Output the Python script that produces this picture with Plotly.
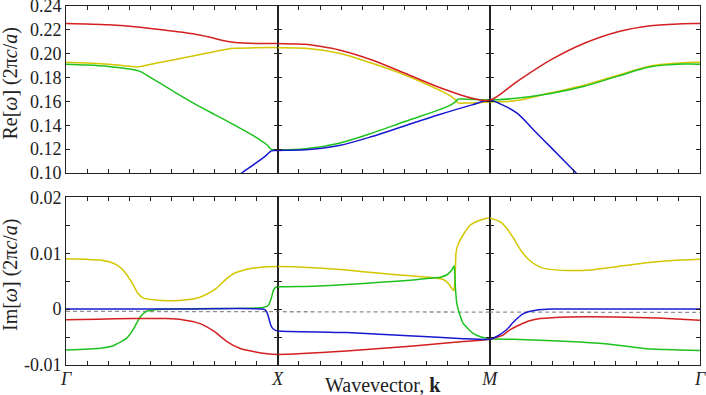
import plotly.graph_objects as go
from plotly.subplots import make_subplots

# band colours
RED, YEL, GRN, BLU = "#d42020", "#d4c600", "#1ec21e", "#1818d0"

# path coordinate: Gamma = 0, X = 1, M = 2, Gamma = 3
path_ticks = ["<i>Γ</i>", "<i>X</i>", "<i>M</i>", "<i>Γ</i>"]

# ---- Re[w] ----
re_red_k = [0, 0.2, 0.35, 0.5, 0.6, 0.68, 0.74, 0.8, 0.9, 1.0,
            1.13, 1.2, 1.29, 1.445, 1.6, 1.76, 1.917, 2.0,
            2.13, 2.29, 2.45, 2.61, 2.765, 2.92, 3.0]
re_red = [0.2253, 0.2242, 0.2222, 0.2190, 0.2167, 0.2138, 0.2111, 0.2094, 0.2086, 0.2085,
          0.2079, 0.2062, 0.2032, 0.1948, 0.1836, 0.1719, 0.1627, 0.1610,
          0.1767, 0.1948, 0.2088, 0.2185, 0.2235, 0.2252, 0.2253]

re_yel_k = [0, 0.1, 0.2, 0.3, 0.335, 0.36, 0.4, 0.5, 0.6, 0.7, 0.76, 0.8, 0.9, 1.0,
            1.13, 1.29, 1.445, 1.6, 1.76, 1.807, 1.83, 1.843, 1.85, 1.9, 1.95, 2.0,
            2.08, 2.15, 2.29, 2.45, 2.61, 2.765, 2.92, 3.0]
re_yel = [0.1928, 0.1922, 0.1911, 0.1895, 0.1889, 0.1895, 0.1912, 0.1946, 0.1981, 0.2017, 0.2038, 0.2045, 0.2050, 0.2051,
          0.2046, 0.2004, 0.1920, 0.1822, 0.1697, 0.1655, 0.1627, 0.1605, 0.1588, 0.1587, 0.1590, 0.1596,
          0.1599, 0.1615, 0.1672, 0.1735, 0.1820, 0.1898, 0.1925, 0.1928]

re_grn_k = [0, 0.1, 0.2, 0.3, 0.35, 0.4, 0.5, 0.6, 0.7, 0.8, 0.9, 0.95, 0.97, 1.0,
            1.13, 1.29, 1.445, 1.6, 1.76, 1.807, 1.83, 1.843, 1.85, 1.9, 2.0,
            2.1, 2.29, 2.45, 2.61, 2.765, 2.92, 3.0]
re_grn = [0.1912, 0.1905, 0.1893, 0.1872, 0.1852, 0.1800, 0.1693, 0.1588, 0.1492, 0.1398, 0.1297, 0.1235, 0.1198, 0.1195,
          0.1203, 0.1250, 0.1334, 0.1432, 0.1529, 0.1563, 0.1585, 0.1605, 0.1619, 0.1618, 0.1613,
          0.1622, 0.1667, 0.1728, 0.1812, 0.1890, 0.1913, 0.1912]

re_blu_k = [0.5, 0.6, 0.7, 0.83, 0.94, 0.97, 1.0,
            1.13, 1.29, 1.445, 1.6, 1.76, 1.917, 2.0,
            2.05, 2.13, 2.21, 2.29, 2.41, 2.5, 2.6]
re_blu = [0.058, 0.071, 0.084, 0.100, 0.1139, 0.1186, 0.1189,
          0.1195, 0.1231, 0.1306, 0.1396, 0.1488, 0.1571, 0.1610,
          0.1580, 0.1502, 0.1359, 0.1217, 0.1002, 0.084, 0.066]

# ---- Im[w] ----
im_red_k = [0, 0.15, 0.318, 0.476, 0.55, 0.633, 0.7, 0.76, 0.82, 0.885, 0.95, 1.0,
            1.325, 1.64, 1.876, 2.0,
            2.065, 2.096, 2.144, 2.19, 2.24, 2.38, 2.6, 2.8, 3.0]
im_red = [-0.0019, -0.0018, -0.0017, -0.0017, -0.0019, -0.0026, -0.0040, -0.0058, -0.0070, -0.0076, -0.0080, -0.0081,
          -0.0075, -0.0066, -0.0058, -0.0054,
          -0.0046, -0.0037, -0.0028, -0.0021, -0.0017, -0.0014, -0.0014, -0.0016, -0.0020]

im_yel_k = [0, 0.1, 0.16, 0.2, 0.24, 0.28, 0.318, 0.34, 0.365, 0.4, 0.476, 0.55, 0.6, 0.65, 0.71, 0.76, 0.8, 0.85, 0.9, 1.0,
            1.168, 1.325, 1.483, 1.64, 1.718, 1.781, 1.805, 1.821, 1.830, 1.834, 1.838, 1.841, 1.85, 1.875, 1.907, 1.954, 2.0,
            2.05, 2.08, 2.113, 2.15, 2.19, 2.23, 2.27, 2.38, 2.48, 2.59, 2.746, 2.87, 3.0]
im_yel = [0.0090, 0.0089, 0.0088, 0.0085, 0.0079, 0.0065, 0.0043, 0.0028, 0.0020, 0.0017, 0.0015, 0.0016, 0.0018, 0.0024, 0.0037, 0.0055, 0.0065, 0.0071, 0.0074, 0.0076,
          0.0074, 0.0070, 0.0064, 0.0059, 0.0057, 0.0053, 0.0046, 0.0037, 0.0033, 0.0040, 0.0070, 0.0100, 0.0115, 0.0133, 0.0150, 0.0159, 0.0163,
          0.0156, 0.0145, 0.0127, 0.0104, 0.0087, 0.0077, 0.0072, 0.0069, 0.0070, 0.0075, 0.0083, 0.0087, 0.0089]

im_grn_k = [0, 0.16, 0.22, 0.287, 0.32, 0.35, 0.38, 0.42, 0.475, 0.7, 0.93, 0.956, 0.97, 0.98, 0.99, 1.0,
            1.168, 1.325, 1.483, 1.64, 1.718, 1.766, 1.797, 1.821, 1.832, 1.835, 1.838, 1.845, 1.86, 1.874, 1.92, 1.96, 2.0,
            2.11, 2.43, 2.6, 2.746, 2.9, 3.0]
im_grn = [-0.0073, -0.0070, -0.0066, -0.0052, -0.0035, -0.0014, -0.0004, -0.0001, 0.0, 0.0001, 0.0003, 0.0007, 0.0020, 0.0034, 0.0039, 0.0040,
          0.0041, 0.0044, 0.0048, 0.0052, 0.0055, 0.0057, 0.0061, 0.0070, 0.0077, 0.0065, 0.0040, 0.0010, -0.0011, -0.0025, -0.0043, -0.0050, -0.0053,
          -0.0054, -0.0059, -0.0064, -0.0071, -0.0073, -0.0074]

im_blu_k = [0, 0.5, 0.93, 0.945, 0.955, 0.965, 0.975, 0.99, 1.0,
            1.325, 1.64, 1.876, 2.0,
            2.033, 2.08, 2.113, 2.16, 2.22, 2.3, 3.0]
im_blu = [0.0, 0.0, 0.0, -0.0003, -0.0012, -0.0026, -0.0034, -0.0038, -0.0039,
          -0.0042, -0.0048, -0.0053, -0.0054,
          -0.0049, -0.0037, -0.0023, -0.0008, -0.0002, 0.0, 0.0]

ref_k = [0, 3]
ref_im = [-0.0004, -0.0006]

font = "Liberation Serif, Times New Roman, serif"
fig = make_subplots(rows=2, cols=3, horizontal_spacing=0, vertical_spacing=0.07)

re_bands = [(re_yel_k, re_yel, YEL), (re_grn_k, re_grn, GRN), (re_blu_k, re_blu, BLU), (re_red_k, re_red, RED)]
im_bands = [(im_yel_k, im_yel, YEL), (im_grn_k, im_grn, GRN), (im_red_k, im_red, RED), (im_blu_k, im_blu, BLU)]

for col in range(1, 4):
    fig.add_trace(go.Scatter(x=ref_k, y=ref_im, mode="lines", line=dict(color="#909090", width=1.3, dash="4px,3px"),
                             showlegend=False, hoverinfo="skip"), row=2, col=col)
    for k, v, c in re_bands:
        fig.add_trace(go.Scatter(x=k, y=v, mode="lines", line=dict(color=c, width=1.5, shape="spline", smoothing=0.9),
                                 showlegend=False), row=1, col=col)
    for k, v, c in im_bands:
        fig.add_trace(go.Scatter(x=k, y=v, mode="lines", line=dict(color=c, width=1.5, shape="spline", smoothing=0.5),
                                 showlegend=False), row=2, col=col)

xdom = [[0, 0.3339], [0.3339, 0.6683], [0.6683, 1]]
axis_style = dict(showline=True, linecolor="#222", linewidth=1, mirror="ticks", ticks="inside",
                  ticklen=4, tickcolor="#222", tickwidth=1, showgrid=False, zeroline=False, automargin=False,
                  ticklabeloverflow="allow", tickfont=dict(family=font, size=18, color="#222"))

re_ticks = [round(0.10 + 0.02 * i, 2) for i in range(8)]
im_ticks = [round(-0.01 + 0.005 * i, 3) for i in range(7)]
im_text = ["-0.01", "", "0", "", "0.01", "", "0.02"]
bottom_labels = [{0: path_ticks[0]}, {1: path_ticks[1]}, {2: path_ticks[2], 3: path_ticks[3]}]

for col in range(1, 4):
    xt = [round(col - 1 + 0.1 * i, 1) for i in range(11)]
    fig.update_xaxes(range=[col - 1, col], domain=xdom[col - 1], tickvals=xt,
                     ticktext=[""] * len(xt), row=1, col=col, **axis_style)
    fig.update_xaxes(range=[col - 1, col], domain=xdom[col - 1], tickvals=xt, ticklabelstandoff=-3,
                     ticktext=[bottom_labels[col - 1].get(v, "") for v in xt], row=2, col=col, **axis_style)
    fig.update_yaxes(range=[0.10, 0.24], domain=[0.5348, 1], tickvals=re_ticks,
                     ticktext=["%.2f" % v for v in re_ticks], showticklabels=(col == 1), row=1, col=col, **axis_style)
    fig.update_yaxes(range=[-0.01, 0.02], domain=[0, 0.4671], tickvals=im_ticks,
                     ticktext=im_text, showticklabels=(col == 1), row=2, col=col, **axis_style)

title_font = dict(family=font, size=20, color="#222")
fig.add_annotation(text="Re[<i>ω</i>] (2π<i>c</i>/<i>a</i>)", xref="paper", yref="paper", x=-0.0867, y=0.784,
                   xanchor="center", yanchor="middle", textangle=-90, showarrow=False, font=title_font)
fig.add_annotation(text="Im[<i>ω</i>] (2π<i>c</i>/<i>a</i>)", xref="paper", yref="paper", x=-0.0867, y=0.2507,
                   xanchor="center", yanchor="middle", textangle=-90, showarrow=False, font=title_font)
fig.add_annotation(text="Wavevector, <b>k</b>", xref="paper", yref="paper", x=0.5, y=-0.0557,
                   xanchor="center", yanchor="middle", showarrow=False, font=title_font)

fig.update_layout(template="none", width=706, height=395, margin=dict(l=66, r=6, t=6, b=30),
                  plot_bgcolor="white", paper_bgcolor="white", showlegend=False)
fig.write_html("out.html", config={"displayModeBar": False},
               post_script="document.body.style.margin='0px';")
